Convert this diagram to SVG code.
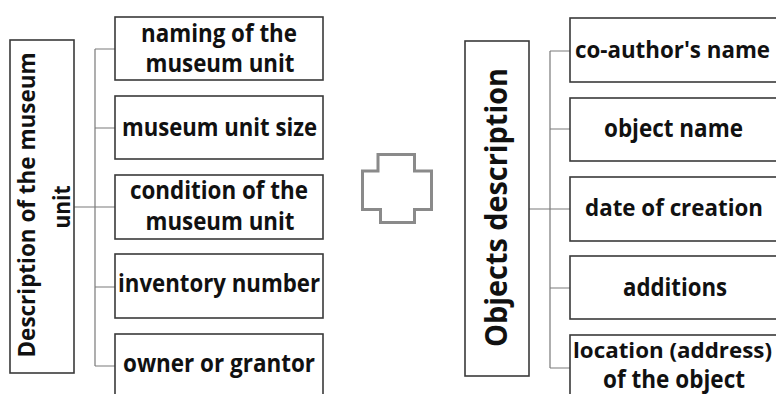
<svg xmlns="http://www.w3.org/2000/svg" width="776" height="394" viewBox="0 0 776 394">
<style>
.box{fill:#fff;stroke:#3a3a3a;stroke-width:1.6}
.con{fill:none;stroke:#7a7a7a;stroke-width:1.2}
.t{font-family:"Open Sans","Noto Sans","Liberation Sans",sans-serif;font-weight:bold;font-size:24.5px;fill:#111;text-anchor:middle}
.s{font-size:23px}
.xs{font-size:21.5px}
.rt{font-family:"Open Sans","Noto Sans","Liberation Sans",sans-serif;font-weight:bold;fill:#111;text-anchor:middle}
.cross{fill:#fff;stroke:#8a8a8a;stroke-width:3}
</style>
<rect width="776" height="394" fill="#fff"/>
<g id="connectors">
<path class="con" d="M74,207H95M95,49V366M95,49H115M95,128H115M95,207H115M95,287H115M95,366H115"/>
<path class="con" d="M529,209H550M550,51V368M550,51H570M550,129H570M550,209H570M550,288H570M550,368H570"/>
</g>
<g id="left-main">
<rect class="box" x="10" y="40" width="64" height="333"/>
<text class="rt" font-size="24" textLength="305" lengthAdjust="spacingAndGlyphs" transform="translate(35,205) rotate(-90)">Description of the museum</text>
<text class="rt" font-size="24" textLength="43" lengthAdjust="spacingAndGlyphs" transform="translate(70,207) rotate(-90)">unit</text>
</g>
<g id="l1"><rect class="box" x="115" y="17" width="208" height="63"/><text class="t" x="219" y="42" textLength="156" lengthAdjust="spacingAndGlyphs">naming of the</text><text class="t" x="220" y="72" textLength="149" lengthAdjust="spacingAndGlyphs">museum unit</text></g>
<g id="l2"><rect class="box" x="115" y="96" width="208" height="63"/><text class="t" x="219.5" y="136" textLength="195" lengthAdjust="spacingAndGlyphs">museum unit size</text></g>
<g id="l3"><rect class="box" x="115" y="175" width="208" height="64"/><text class="t" x="219" y="199" textLength="178" lengthAdjust="spacingAndGlyphs">condition of the</text><text class="t" x="220" y="230" textLength="149" lengthAdjust="spacingAndGlyphs">museum unit</text></g>
<g id="l4"><rect class="box" x="115" y="254" width="208" height="64"/><text class="t" x="219" y="292" textLength="202" lengthAdjust="spacingAndGlyphs">inventory number</text></g>
<g id="l5"><rect class="box" x="115" y="334" width="208" height="70"/><text class="t" x="219" y="372" textLength="192" lengthAdjust="spacingAndGlyphs">owner or grantor</text></g>
<g id="plus"><path class="cross" d="M378,154.5H414.5V171H431.5V209.5H414.5V222.5H380.5V209.5H362.5V171H378Z"/></g>
<g id="right-main">
<rect class="box" x="465" y="41" width="64" height="335"/>
<text class="rt" font-size="30" textLength="279" lengthAdjust="spacingAndGlyphs" transform="translate(507,207.5) rotate(-90)">Objects description</text>
</g>
<g id="r1"><rect class="box" x="570" y="18" width="215" height="64"/><text class="t s" x="672.5" y="58" textLength="195" lengthAdjust="spacingAndGlyphs">co-author's name</text></g>
<g id="r2"><rect class="box" x="570" y="98" width="215" height="63"/><text class="t" x="673.5" y="137" textLength="139" lengthAdjust="spacingAndGlyphs">object name</text></g>
<g id="r3"><rect class="box" x="570" y="177" width="215" height="64"/><text class="t s" x="674" y="216" textLength="178" lengthAdjust="spacingAndGlyphs">date of creation</text></g>
<g id="r4"><rect class="box" x="570" y="256" width="215" height="63"/><text class="t" x="675" y="296" textLength="104" lengthAdjust="spacingAndGlyphs">additions</text></g>
<g id="r5"><rect class="box" x="570" y="335" width="215" height="70"/><text class="t xs" x="672.5" y="358" textLength="199" lengthAdjust="spacingAndGlyphs">location (address)</text><text class="t" x="674" y="388" textLength="142" lengthAdjust="spacingAndGlyphs">of the object</text></g>
</svg>
